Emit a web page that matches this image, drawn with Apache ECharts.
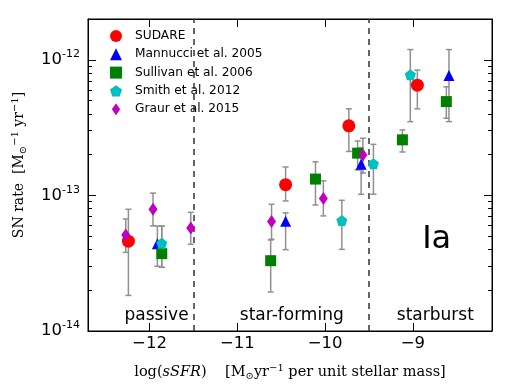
<!DOCTYPE html>
<html>
<head>
<meta charset="utf-8">
<script src="https://cdn.jsdelivr.net/npm/echarts@6/dist/echarts.min.js"></script>
<style>
    html, body { margin: 0; padding: 0; background: #fff; }
    #chart { width: 518px; height: 390px; }
</style>
</head>
<body>
<div id="chart"></div>
<script>
// each row: [log sSFR, SN rate, lower error, upper error]
var sudare = [[-12.24, 4.6e-14, 1.83e-14, 7.9e-14], [-10.45, 1.2e-13, 9.1e-14, 1.62e-13], [-9.73, 3.26e-13, 2.11e-13, 4.35e-13], [-8.95, 6.5e-13, 4.35e-13, 8.4e-13]];
var mannucci = [[-11.91, 4.4e-14, 3.0e-14, 5.95e-14], [-10.45, 6.45e-14, 3.98e-14, 7.43e-14], [-9.59, 1.7e-13, 1.02e-13, 2.24e-13], [-8.59, 7.66e-13, 3.5e-13, 1.19e-12]];
var sullivan = [[-11.86, 3.72e-14, 2.95e-14, 5.95e-14], [-10.62, 3.3e-14, 1.94e-14, 4.69e-14], [-10.11, 1.32e-13, 8.5e-14, 1.77e-13], [-9.63, 2.05e-13, 1.54e-13, 2.52e-13], [-9.12, 2.57e-13, 2.09e-13, 3.04e-13], [-8.62, 4.92e-13, 3.71e-13, 6.32e-13]];
var smith = [[-11.86, 4.44e-14, 2.95e-14, 5.95e-14], [-9.81, 6.52e-14, 4.0e-14, 9.2e-14], [-9.45, 1.71e-13, 1.02e-13, 2.38e-13], [-9.03, 7.75e-13, 3.5e-13, 1.19e-12]];
var graur = [[-12.27, 5.1e-14, 3.8e-14, 6.7e-14], [-11.96, 7.9e-14, 5.96e-14, 1.04e-13], [-11.53, 5.75e-14, 4.36e-14, 7.5e-14], [-10.61, 6.41e-14, 4.75e-14, 8.6e-14], [-10.02, 9.5e-14, 7.06e-14, 1.28e-13], [-9.57, 1.99e-13, 1.46e-13, 2.64e-13]];

var borders = [-11.5, -9.5];
var regions = [[-11.92, 1.29e-14, 'passive'], [-10.38, 1.29e-14, 'star-forming'], [-8.745, 1.29e-14, 'starburst']];
var typeLabel = [[-8.73, 4.7e-14, 'Ia']];

var xTicks = [-12, -11, -10, -9];
var yMajor = [1e-14, 1e-13, 1e-12];
var yMinor = [2e-14, 3e-14, 4e-14, 5e-14, 6e-14, 7e-14, 8e-14, 9e-14,
              2e-13, 3e-13, 4e-13, 5e-13, 6e-13, 7e-13, 8e-13, 9e-13, 2e-12];

var pentagon = 'path://M0,-10 L9.51,-3.09 L5.88,8.09 L-5.88,8.09 L-9.51,-3.09 Z';
var thinDiamond = 'path://M0,-13 L9,0 L0,13 L-9,0 Z';

var sets = [
    { name: 'SUDARE', rows: sudare, color: '#ff0000', symbol: 'circle', size: 13, icon: 'circle' },
    { name: 'Mannucci et al. 2005', rows: mannucci, color: '#0000ff', symbol: 'triangle', size: 11, icon: 'triangle' },
    { name: 'Sullivan et al. 2006', rows: sullivan, color: '#008000', symbol: 'rect', size: 11, icon: 'rect' },
    { name: 'Smith et al. 2012', rows: smith, color: '#00bfbf', symbol: pentagon, size: 11, icon: pentagon },
    { name: 'Graur et al. 2015', rows: graur, color: '#bf00bf', symbol: 'diamond', size: [9, 13], icon: thinDiamond }
];

function errRender(params, api) {
    var x = api.value(0);
    var lo = api.coord([x, api.value(1)]);
    var hi = api.coord([x, api.value(2)]);
    var w = 3;
    var st = { stroke: '#909090', lineWidth: 1.5 };
    return {
        type: 'group',
        children: [
            { type: 'line', shape: { x1: lo[0], y1: lo[1], x2: hi[0], y2: hi[1] }, style: st },
            { type: 'line', shape: { x1: lo[0] - w, y1: lo[1], x2: lo[0] + w, y2: lo[1] }, style: st },
            { type: 'line', shape: { x1: hi[0] - w, y1: hi[1], x2: hi[0] + w, y2: hi[1] }, style: st }
        ]
    };
}

function minus(v) {
    return String(v).replace('-', '\u2212');
}

function powLabel(v) {
    var e = Math.round(Math.log10(v));
    return '{b|10}{s|' + e + '}';
}

var series = [];
sets.forEach(function (s) {
    series.push({
        name: s.name + ' err',
        type: 'custom',
        renderItem: errRender,
        data: s.rows.map(function (r) { return [r[0], r[2], r[3]]; }),
        encode: { x: 0, y: [1, 2] },
        z: 2,
        silent: true
    });
});
sets.forEach(function (s) {
    series.push({
        name: s.name,
        type: 'scatter',
        symbol: s.symbol,
        symbolSize: s.size,
        itemStyle: { color: s.color, opacity: 1 },
        data: s.rows.map(function (r) { return [r[0], r[1]]; }),
        z: 5
    });
});

series.push({
    name: 'borders',
    type: 'scatter',
    data: [],
    markLine: {
        silent: true,
        symbol: 'none',
        label: { show: false },
        lineStyle: { color: '#333', width: 1.5, type: [6, 5] },
        data: borders.map(function (b) { return { xAxis: b }; })
    }
});

var labelData = regions.slice();
labelData.push({ value: typeLabel[0], label: { fontSize: 32 } });

series.push({
    name: 'regions',
    type: 'scatter',
    symbolSize: 0,
    silent: true,
    itemStyle: { opacity: 1 },
    data: labelData,
    label: {
        show: true,
        position: 'inside',
        formatter: function (p) { return p.value[2]; },
        fontFamily: 'DejaVu Sans',
        fontSize: 17,
        color: '#000',
        opacity: 1
    },
    z: 6
});

var chart = echarts.init(document.getElementById('chart'));
chart.setOption({
    animation: false,
    textStyle: { fontFamily: 'DejaVu Sans' },
    grid: { left: 88, right: 26, top: 19, bottom: 59, show: true, borderColor: '#000', borderWidth: 1 },
    legend: {
        data: sets.map(function (s) { return { name: s.name, icon: s.icon }; }),
        orient: 'vertical',
        left: 105,
        top: 25,
        itemWidth: 12,
        itemHeight: 12,
        itemGap: 6.3,
        symbolKeepAspect: true,
        textStyle: { fontSize: 12.2, color: '#000', padding: [0, 0, 0, 8] }
    },
    xAxis: [
        {
            type: 'value', min: -12.7, max: -8.1, position: 'bottom',
            axisLine: { show: true, onZero: false, lineStyle: { color: '#000' } },
            axisTick: { inside: true, length: 8, customValues: xTicks, lineStyle: { color: '#000' } },
            axisLabel: { customValues: xTicks, formatter: minus, fontSize: 16.5, color: '#000', margin: 4 },
            splitLine: { show: false },
            name: '{r|log(}{i|sSFR}{r|)    [M}{sub|\u2299}{r|yr}{sup|\u22121}{r| per unit stellar mass]}',
            nameLocation: 'middle',
            nameGap: 32,
            nameTextStyle: {
                rich: {
                    r: { fontFamily: 'DejaVu Serif', fontSize: 14.5, color: '#000' },
                    i: { fontFamily: 'DejaVu Serif', fontStyle: 'italic', fontSize: 14.5, color: '#000' },
                    sub: { fontFamily: 'DejaVu Serif', fontSize: 10, color: '#000', padding: [8, 0, 0, 0] },
                    sup: { fontFamily: 'DejaVu Serif', fontSize: 10, color: '#000', padding: [0, 0, 8, 0] }
                }
            }
        },
        {
            type: 'value', min: -12.7, max: -8.1, position: 'top',
            axisLine: { show: true, onZero: false, lineStyle: { color: '#000' } },
            axisTick: { inside: true, length: 8, customValues: xTicks, lineStyle: { color: '#000' } },
            axisLabel: { show: false },
            splitLine: { show: false }
        }
    ],
    yAxis: [
        {
            type: 'log', logBase: 10, min: 1e-14, max: 2e-12, position: 'left',
            axisLine: { show: true, onZero: false, lineStyle: { color: '#000' } },
            axisTick: { inside: true, length: 8, customValues: yMajor, lineStyle: { color: '#000' } },
            axisLabel: {
                customValues: yMajor,
                formatter: powLabel,
                margin: 8,
                rich: {
                    b: { fontSize: 16.5, color: '#000' },
                    s: { fontSize: 11, color: '#000', padding: [0, 0, 11, 0] }
                }
            },
            splitLine: { show: false },
            name: '{r|SN rate  [M}{sub|\u2299}{sup|\u22121}{r| yr}{sup|\u22121}{r|]}',
            nameLocation: 'middle',
            nameGap: 60,
            nameTextStyle: {
                padding: [0, 0, 0, 20],
                rich: {
                    r: { fontFamily: 'DejaVu Serif', fontSize: 14, color: '#000' },
                    sub: { fontFamily: 'DejaVu Serif', fontSize: 10, color: '#000', padding: [8, 0, 0, 0] },
                    sup: { fontFamily: 'DejaVu Serif', fontSize: 10, color: '#000', padding: [0, 0, 8, 0] }
                }
            }
        },
        {
            type: 'log', logBase: 10, min: 1e-14, max: 2e-12, position: 'left',
            axisLine: { show: false },
            axisTick: { inside: true, length: 4, customValues: yMinor, lineStyle: { color: '#000' } },
            axisLabel: { show: false },
            splitLine: { show: false }
        },
        {
            type: 'log', logBase: 10, min: 1e-14, max: 2e-12, position: 'right',
            axisLine: { show: true, onZero: false, lineStyle: { color: '#000' } },
            axisTick: { inside: true, length: 8, customValues: yMajor, lineStyle: { color: '#000' } },
            axisLabel: { show: false },
            splitLine: { show: false }
        },
        {
            type: 'log', logBase: 10, min: 1e-14, max: 2e-12, position: 'right',
            axisLine: { show: false },
            axisTick: { inside: true, length: 4, customValues: yMinor, lineStyle: { color: '#000' } },
            axisLabel: { show: false },
            splitLine: { show: false }
        }
    ],
    series: series
});
</script>
</body>
</html>
